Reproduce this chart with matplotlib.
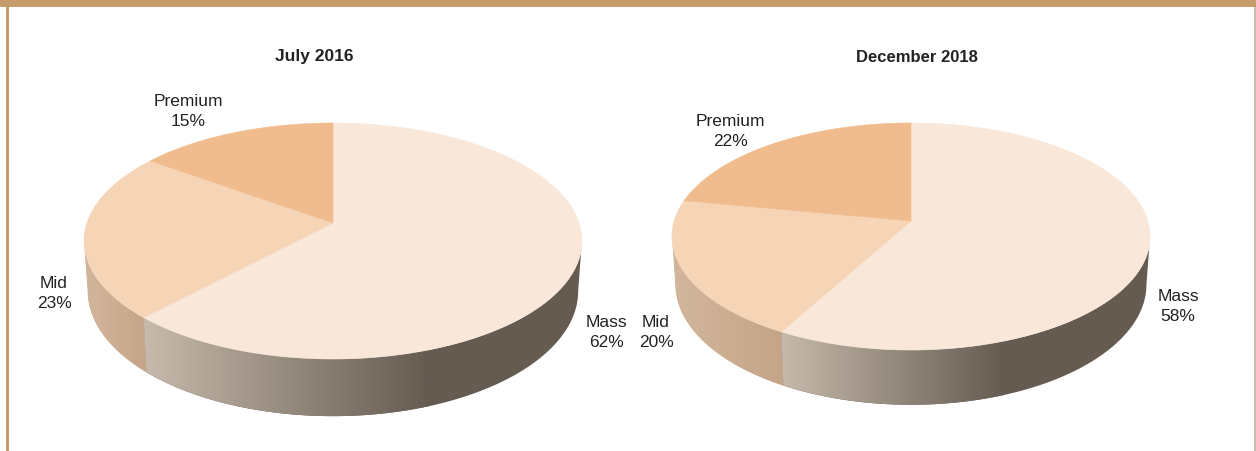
import numpy as np
import matplotlib
matplotlib.use('Agg')
import matplotlib.pyplot as plt
from matplotlib.patches import Polygon, Rectangle
from matplotlib.colors import LinearSegmentedColormap

plt.rcParams['font.family'] = ['Liberation Sans', 'DejaVu Sans']

categories = ['Mass', 'Mid', 'Premium']
values_2016 = [62, 23, 15]
values_2018 = [58, 20, 22]
titles = ['July 2016', 'December 2018']

top_colors = ['#F9E8DA', '#F6D4B6', '#F1BC8D']
frame_color = '#C69C6D'
text_color = '#222222'

W, H = 1256, 452
fig = plt.figure(figsize=(W / 100, H / 100), dpi=100)
ax = fig.add_axes([0, 0, 1, 1])


def project(theta, pie, lower=False):
    # theta runs clockwise from twelve o'clock, the disc is tilted away from the viewer
    u, v = np.sin(theta), np.cos(theta)
    d = 1 + pie['k'] * v
    x = pie['b'] * u / d
    y = -pie['a'] * v / d
    if lower:
        x = x * 0.985
        y = y * 1.06 + pie['drop']
    return pie['cx'] + x, pie['cy'] + y


def arc(t0, t1, pie, lower=False):
    t = np.linspace(t0, t1, 200)
    x, y = project(t, pie, lower)
    return np.column_stack([x, y])


def draw_wall(t0, t1, pie, ramp, c0, c1):
    # side wall: a band between the upper and lower rim, shaded left to right
    pts = np.vstack([arc(t0, t1, pie), arc(t1, t0, pie, lower=True)])
    clip = Polygon(pts, closed=True, fc=c1, ec='none', zorder=1.5)
    ax.add_patch(clip)
    cmap = LinearSegmentedColormap.from_list('wall', [c0, c1])
    grad = np.linspace(0, 1, 256).reshape(1, -1)
    im = ax.imshow(grad, cmap=cmap, extent=(ramp[0], ramp[1], H, 0), aspect='auto',
                   interpolation='bilinear', zorder=2)
    im.set_clip_path(clip)


def draw_pie(values, pie):
    fr = np.cumsum([0] + list(values)) / sum(values) * 2 * np.pi
    edge = np.arccos(-pie['k'])

    draw_wall(fr[1], 2 * np.pi - edge, pie, pie['mid_ramp'], '#D2B69C', '#C5A488')
    draw_wall(edge, fr[1], pie, pie['mass_ramp'], '#C9BCAE', '#655B51')

    for i in range(len(values)):
        rim = arc(fr[i], fr[i + 1], pie)
        pts = np.vstack([[pie['cx'], pie['cy']], rim])
        ax.add_patch(Polygon(pts, closed=True, fc=top_colors[i], ec=top_colors[i], lw=0.4, zorder=3))


pie_2016 = dict(cx=333, cy=224, a=115.25, b=246, k=0.1525, drop=49,
                mass_ramp=(140, 430), mid_ramp=(85, 150))
pie_2018 = dict(cx=911, cy=222, a=111.4, b=236.8, k=0.1366, drop=47,
                mass_ramp=(776, 1005), mid_ramp=(674, 786))

draw_pie(values_2016, pie_2016)
draw_pie(values_2018, pie_2018)

# frame
ax.add_patch(Rectangle((0, 0), W, 7.5, fc=frame_color, ec='none', zorder=5))
ax.add_patch(Rectangle((6, 0), 3, H, fc=frame_color, ec='none', zorder=5))
ax.add_patch(Rectangle((1254, 0), 2, H, fc='#CDBFAE', ec='none', zorder=4))

ax.text(314, 56, titles[0], ha='center', va='center', fontsize=12.5, fontweight='bold', color=text_color)
ax.text(917, 58, titles[1], ha='center', va='center', fontsize=12, fontweight='bold', color=text_color)

# slice labels
label_pos_2016 = [(606, 332.5), (54, 293.5), (188, 111.5)]
label_pos_2018 = [(1178, 306.5), (656, 332.5), (730, 131.5)]
for vals, positions in [(values_2016, label_pos_2016), (values_2018, label_pos_2018)]:
    for name, val, (lx, ly) in zip(categories, vals, positions):
        ax.text(lx, ly, f'{name}\n{val}%', ha='center', va='center', fontsize=12.5,
                color=text_color, linespacing=1.42)

ax.set_xlim(0, W)
ax.set_ylim(H, 0)
ax.axis('off')
fig.savefig('out.png', dpi=100, facecolor='white')
